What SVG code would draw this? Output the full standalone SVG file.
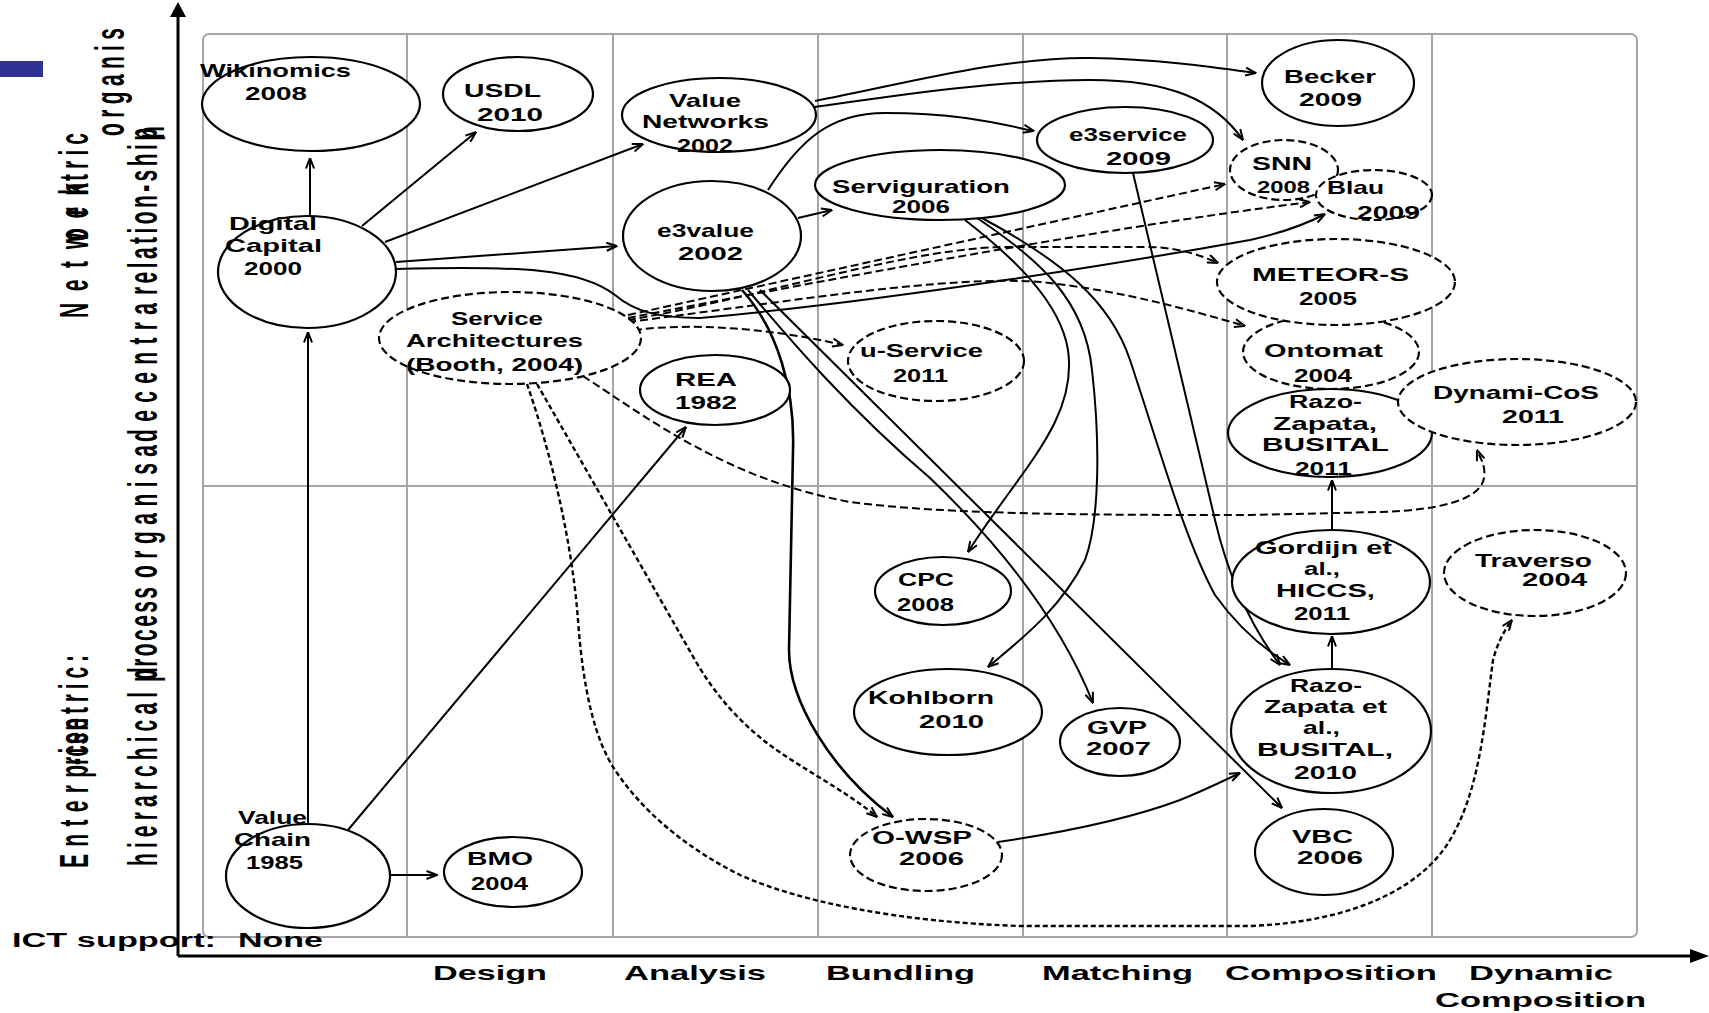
<svg xmlns="http://www.w3.org/2000/svg" width="1709" height="1013" viewBox="0 0 1709 1013">
<style>
  text { font-family: "Liberation Sans", Arial, sans-serif; fill: #000; }
  .t { font-size: 19px; font-weight: bold; }
  .ax { font-size: 21px; font-weight: bold; }
  .v { font-size: 21px; font-weight: bold; }
  .nd ellipse { fill: #fff; stroke: #000; stroke-width: 2.2; }
  .nd.ds ellipse { stroke-dasharray: 8 4; }
  .grid { fill: none; stroke: #a6a6a6; stroke-width: 2; }
  #connectors path { fill: none; stroke: #000; stroke-width: 2; marker-end: url(#arr); }
  #connectors path.d { stroke-dasharray: 8 4; }
  #connectors path.dd { stroke-dasharray: 5 3; stroke-width: 2.4; }
  #connectors path.thick { stroke-width: 2.6; }
</style>
<defs>
  <marker id="arr" viewBox="0 0 12 10" refX="11.5" refY="5" markerWidth="12" markerHeight="10" markerUnits="userSpaceOnUse" orient="auto">
    <path d="M1,1 L11.5,5 L1,9" fill="none" stroke="#000" stroke-width="2"/>
  </marker>
</defs>
<rect width="1709" height="1013" fill="#fff"/>

<!-- corner tag -->
<rect x="0" y="61" width="43" height="16" fill="#2e3192"/>

<!-- grid -->
<g id="grid">
  <rect class="grid" x="203" y="34" width="1434" height="903" rx="6"/>
  <path class="grid" d="M407,34V937 M613,34V937 M818,34V937 M1023,34V937 M1227,34V937 M1432,34V937 M203,486H1637"/>
</g>

<!-- axes -->
<g id="axes">
  <path d="M178,956 V14 M178,956 H1692" fill="none" stroke="#000" stroke-width="3"/>
  <path d="M178,2 L186,17 L170,17 Z" fill="#000"/>
  <path d="M1709,956 L1690,949 L1690,963 Z" fill="#000"/>
</g>

<!-- vertical axis labels -->
<g id="y-labels">
  <text class="v" transform="translate(88,318) rotate(-90) scale(1,1.95)" textLength="85" lengthAdjust="spacing">Netw</text>
  <text class="v" transform="translate(88,241) rotate(-90) scale(1,1.95)" textLength="58" lengthAdjust="spacing">ork</text>
  <text class="v" transform="translate(88,241) rotate(-90) scale(1,1.95)" textLength="58" lengthAdjust="spacing">cen</text>
  <text class="v" transform="translate(88,181) rotate(-90) scale(1,1.95)" textLength="48" lengthAdjust="spacing">tric</text>
  <text class="v" transform="translate(88,868) rotate(-90) scale(1,1.95)" textLength="103" lengthAdjust="spacing">Enterp</text>
  <text class="v" transform="translate(88,765) rotate(-90) scale(1,1.95)" textLength="47" lengthAdjust="spacing">rise</text>
  <text class="v" transform="translate(88,765) rotate(-90) scale(1,1.95)" textLength="47" lengthAdjust="spacing">-cen</text>
  <text class="v" transform="translate(88,714) rotate(-90) scale(1,1.95)" textLength="59" lengthAdjust="spacing">tric:</text>
  <text class="v" transform="translate(157,866) rotate(-90) scale(1,1.95)" textLength="174" lengthAdjust="spacing">hierarchical</text>
  <text class="v" transform="translate(157,682) rotate(-90) scale(1,1.95)" textLength="95" lengthAdjust="spacing">process</text>
  <text class="v" transform="translate(157,680) rotate(-90) scale(1,1.95)">d</text>
  <text class="v" transform="translate(157,578) rotate(-90) scale(1,1.95)" textLength="133" lengthAdjust="spacing">organisa</text>
  <text class="v" transform="translate(157,442) rotate(-90) scale(1,1.95)" textLength="139" lengthAdjust="spacing">decentra</text>
  <text class="v" transform="translate(157,295) rotate(-90) scale(1,1.95)" textLength="167" lengthAdjust="spacing">relation-ship</text>
  <text class="v" transform="translate(164,139) rotate(-90) scale(1,1.95)">n</text>
  <text class="v" transform="translate(124,136) rotate(-90) scale(1,1.95)" textLength="108" lengthAdjust="spacing">organis</text>
</g>

<!-- horizontal axis labels -->
<g id="x-labels">
  <text class="t" x="12" y="947" textLength="204" lengthAdjust="spacingAndGlyphs" style="font-size:20px">ICT support:</text>
  <text class="t" x="238" y="947" textLength="85" lengthAdjust="spacingAndGlyphs" style="font-size:20px">None</text>
  <text class="ax" x="433" y="980" textLength="114" lengthAdjust="spacingAndGlyphs">Design</text>
  <text class="ax" x="624" y="980" textLength="142" lengthAdjust="spacingAndGlyphs">Analysis</text>
  <text class="ax" x="826" y="980" textLength="149" lengthAdjust="spacingAndGlyphs">Bundling</text>
  <text class="ax" x="1042" y="980" textLength="151" lengthAdjust="spacingAndGlyphs">Matching</text>
  <text class="ax" x="1225" y="980" textLength="212" lengthAdjust="spacingAndGlyphs">Composition</text>
  <text class="ax" x="1469" y="980" textLength="144" lengthAdjust="spacingAndGlyphs">Dynamic</text>
  <text class="ax" x="1435" y="1007" textLength="211" lengthAdjust="spacingAndGlyphs">Composition</text>
</g>

<!-- connectors -->
<g id="connectors">
  <path d="M310,216 L310,158"/>
  <path d="M362,226 L476,132"/>
  <path d="M385,242 L643,144"/>
  <path d="M396,262 L617,246"/>
  <path d="M396,269 C520,266 580,268 615,295 C635,312 660,318 700,318 C900,300 1150,258 1250,240 Q1295,230 1325,214"/>
  <path d="M308,824 L308,332"/>
  <path d="M348,830 L686,427"/>
  <path d="M390,875 L437,875"/>
  <path d="M798,218 L832,210"/>
  <path d="M768,190 C800,140 830,113 885,113 C960,113 1000,124 1034,131"/>
  <path d="M815,101 C900,85 1000,57 1090,58 C1160,59 1220,68 1256,73"/>
  <path d="M815,107 C900,95 1000,80 1090,80 C1170,80 1215,100 1243,140"/>
  <path d="M1133,173 L1215,520 C1228,575 1250,625 1280,665"/>
  <path d="M965,220 C1010,255 1060,300 1068,350 C1078,420 1020,470 968,552"/>
  <path d="M977,218 C1040,260 1085,300 1092,370 C1100,440 1100,520 1085,560 C1060,610 1020,640 988,667"/>
  <path d="M982,218 C1060,260 1110,300 1130,360 C1160,450 1185,540 1215,595 C1240,630 1265,650 1290,665"/>
  <path class="thick" d="M742,290 C778,330 795,390 793,450 L789,650 C789,700 830,770 893,817"/>
  <path d="M748,290 C790,340 850,410 930,478 C1000,545 1060,620 1093,703"/>
  <path d="M760,290 L1282,808"/>
  <path d="M998,842 C1080,830 1140,815 1180,800 C1205,790 1225,780 1240,773"/>
  <path d="M1332,668 L1332,636"/>
  <path d="M1332,530 L1332,480"/>
  <path class="d" d="M628,315 L1225,184"/>
  <path class="d" d="M628,318 C800,285 1100,228 1310,202"/>
  <path class="d" d="M628,320 C750,300 900,250 1000,247 L1150,247 C1180,248 1200,255 1218,263"/>
  <path class="d" d="M628,322 C800,300 950,275 1040,282 C1120,290 1190,310 1245,326"/>
  <path class="d" d="M634,330 C700,322 780,330 843,345"/>
  <path class="d" d="M583,376 C650,420 730,480 850,502 C950,515 1100,515 1250,515 L1380,512 C1440,510 1480,500 1484,478 C1486,465 1480,458 1477,450"/>
  <path class="dd" d="M537,384 L695,660 C715,695 740,722 767,743 C800,768 845,790 877,817"/>
  <path class="dd" d="M527,384 C550,450 572,540 578,620 C583,690 595,740 615,770 C645,815 690,850 740,875 C800,902 900,922 1020,926 L1250,926 C1350,922 1420,890 1450,840 C1480,790 1485,720 1493,660 C1497,645 1503,632 1512,620"/>
</g>

<!-- nodes -->
<g id="n-wikinomics" class="nd">
  <ellipse cx="311" cy="104" rx="109" ry="47"/>
  <text class="t" x="200" y="77" textLength="151" lengthAdjust="spacingAndGlyphs">Wikinomics</text>
  <text class="t" x="245" y="100" textLength="62" lengthAdjust="spacingAndGlyphs">2008</text>
</g>
<g id="n-usdl" class="nd">
  <ellipse cx="518" cy="94" rx="75" ry="37"/>
  <text class="t" x="464" y="97" textLength="77" lengthAdjust="spacingAndGlyphs">USDL</text>
  <text class="t" x="477" y="121" textLength="66" lengthAdjust="spacingAndGlyphs">2010</text>
</g>
<g id="n-value-networks" class="nd">
  <ellipse cx="719" cy="115" rx="97" ry="37"/>
  <text class="t" x="669" y="107" textLength="72" lengthAdjust="spacingAndGlyphs">Value</text>
  <text class="t" x="642" y="128" textLength="127" lengthAdjust="spacingAndGlyphs">Networks</text>
  <text class="t" x="677" y="152" textLength="56" lengthAdjust="spacingAndGlyphs">2002</text>
</g>
<g id="n-digital-capital" class="nd">
  <ellipse cx="307" cy="272" rx="89" ry="56"/>
  <text class="t" x="229" y="230" textLength="88" lengthAdjust="spacingAndGlyphs">Digital</text>
  <text class="t" x="225" y="252" textLength="97" lengthAdjust="spacingAndGlyphs">Capital</text>
  <text class="t" x="244" y="275" textLength="58" lengthAdjust="spacingAndGlyphs">2000</text>
</g>
<g id="n-e3value" class="nd">
  <ellipse cx="712" cy="236" rx="89" ry="55"/>
  <text class="t" x="657" y="237" textLength="97" lengthAdjust="spacingAndGlyphs">e3value</text>
  <text class="t" x="678" y="260" textLength="65" lengthAdjust="spacingAndGlyphs">2002</text>
</g>
<g id="n-service-architectures" class="nd ds">
  <ellipse cx="510" cy="338" rx="131" ry="46"/>
  <text class="t" x="451" y="325" textLength="92" lengthAdjust="spacingAndGlyphs">Service</text>
  <text class="t" x="406" y="347" textLength="177" lengthAdjust="spacingAndGlyphs">Architectures</text>
  <text class="t" x="406" y="371" textLength="177" lengthAdjust="spacingAndGlyphs">(Booth, 2004)</text>
</g>
<g id="n-rea" class="nd">
  <ellipse cx="715" cy="390" rx="75" ry="35"/>
  <text class="t" x="675" y="386" textLength="62" lengthAdjust="spacingAndGlyphs">REA</text>
  <text class="t" x="675" y="409" textLength="62" lengthAdjust="spacingAndGlyphs">1982</text>
</g>
<g id="n-serviguration" class="nd">
  <ellipse cx="940" cy="185" rx="125" ry="35"/>
  <text class="t" x="832" y="193" textLength="178" lengthAdjust="spacingAndGlyphs">Serviguration</text>
  <text class="t" x="892" y="213" textLength="58" lengthAdjust="spacingAndGlyphs">2006</text>
</g>
<g id="n-e3service" class="nd">
  <ellipse cx="1125" cy="140" rx="88" ry="33"/>
  <text class="t" x="1069" y="141" textLength="118" lengthAdjust="spacingAndGlyphs">e3service</text>
  <text class="t" x="1106" y="165" textLength="65" lengthAdjust="spacingAndGlyphs">2009</text>
</g>
<g id="n-u-service" class="nd ds">
  <ellipse cx="936" cy="361" rx="88" ry="40"/>
  <text class="t" x="860" y="357" textLength="123" lengthAdjust="spacingAndGlyphs">u-Service</text>
  <text class="t" x="893" y="382" textLength="55" lengthAdjust="spacingAndGlyphs">2011</text>
</g>
<g id="n-becker" class="nd">
  <ellipse cx="1338" cy="83" rx="76" ry="43"/>
  <text class="t" x="1284" y="83" textLength="92" lengthAdjust="spacingAndGlyphs">Becker</text>
  <text class="t" x="1299" y="106" textLength="63" lengthAdjust="spacingAndGlyphs">2009</text>
</g>
<g id="n-snn" class="nd ds">
  <ellipse cx="1284" cy="170" rx="54" ry="30"/>
  <text class="t" x="1252" y="170" textLength="60" lengthAdjust="spacingAndGlyphs">SNN</text>
  <text class="t" x="1257" y="193" textLength="53" lengthAdjust="spacingAndGlyphs" style="font-size:17px">2008</text>
</g>
<g id="n-blau" class="nd ds">
  <ellipse cx="1374" cy="195" rx="58" ry="25"/>
  <text class="t" x="1327" y="194" textLength="57" lengthAdjust="spacingAndGlyphs">Blau</text>
  <text class="t" x="1357" y="219" textLength="63" lengthAdjust="spacingAndGlyphs">2009</text>
</g>
<g id="n-ontomat" class="nd ds">
  <ellipse cx="1331" cy="352" rx="88" ry="37"/>
  <text class="t" x="1264" y="357" textLength="119" lengthAdjust="spacingAndGlyphs">Ontomat</text>
  <text class="t" x="1294" y="382" textLength="58" lengthAdjust="spacingAndGlyphs">2004</text>
</g>
<g id="n-meteor-s" class="nd ds">
  <ellipse cx="1336" cy="282" rx="119" ry="43"/>
  <text class="t" x="1252" y="281" textLength="157" lengthAdjust="spacingAndGlyphs">METEOR-S</text>
  <text class="t" x="1299" y="305" textLength="58" lengthAdjust="spacingAndGlyphs">2005</text>
</g>
<g id="n-razo-zapata-2011" class="nd">
  <ellipse cx="1330" cy="433" rx="102" ry="44"/>
  <text class="t" x="1289" y="408" textLength="73" lengthAdjust="spacingAndGlyphs">Razo-</text>
  <text class="t" x="1273" y="430" textLength="104" lengthAdjust="spacingAndGlyphs">Zapata,</text>
  <text class="t" x="1262" y="451" textLength="127" lengthAdjust="spacingAndGlyphs">BUSITAL</text>
  <text class="t" x="1295" y="475" textLength="57" lengthAdjust="spacingAndGlyphs">2011</text>
</g>
<g id="n-dynami-cos" class="nd ds">
  <ellipse cx="1517" cy="402" rx="119" ry="43"/>
  <text class="t" x="1433" y="399" textLength="166" lengthAdjust="spacingAndGlyphs">Dynami-CoS</text>
  <text class="t" x="1502" y="423" textLength="62" lengthAdjust="spacingAndGlyphs">2011</text>
</g>
<g id="n-gordijn" class="nd">
  <ellipse cx="1331" cy="582" rx="99" ry="52"/>
  <text class="t" x="1255" y="554" textLength="137" lengthAdjust="spacingAndGlyphs">Gordijn et</text>
  <text class="t" x="1304" y="575" textLength="36" lengthAdjust="spacingAndGlyphs">al.,</text>
  <text class="t" x="1276" y="597" textLength="99" lengthAdjust="spacingAndGlyphs">HICCS,</text>
  <text class="t" x="1294" y="620" textLength="56" lengthAdjust="spacingAndGlyphs">2011</text>
</g>
<g id="n-traverso" class="nd ds">
  <ellipse cx="1535" cy="573" rx="91" ry="43"/>
  <text class="t" x="1475" y="567" textLength="117" lengthAdjust="spacingAndGlyphs">Traverso</text>
  <text class="t" x="1522" y="586" textLength="65" lengthAdjust="spacingAndGlyphs">2004</text>
</g>
<g id="n-cpc" class="nd">
  <ellipse cx="943" cy="591" rx="68" ry="34"/>
  <text class="t" x="898" y="586" textLength="56" lengthAdjust="spacingAndGlyphs">CPC</text>
  <text class="t" x="897" y="611" textLength="57" lengthAdjust="spacingAndGlyphs">2008</text>
</g>
<g id="n-kohlborn" class="nd">
  <ellipse cx="948" cy="712" rx="94" ry="43"/>
  <text class="t" x="868" y="704" textLength="126" lengthAdjust="spacingAndGlyphs">Kohlborn</text>
  <text class="t" x="919" y="728" textLength="65" lengthAdjust="spacingAndGlyphs">2010</text>
</g>
<g id="n-gvp" class="nd">
  <ellipse cx="1120" cy="742" rx="60" ry="34"/>
  <text class="t" x="1087" y="734" textLength="60" lengthAdjust="spacingAndGlyphs">GVP</text>
  <text class="t" x="1086" y="755" textLength="65" lengthAdjust="spacingAndGlyphs">2007</text>
</g>
<g id="n-razo-zapata-2010" class="nd">
  <ellipse cx="1331" cy="731" rx="100" ry="62"/>
  <text class="t" x="1290" y="692" textLength="72" lengthAdjust="spacingAndGlyphs">Razo-</text>
  <text class="t" x="1264" y="713" textLength="123" lengthAdjust="spacingAndGlyphs">Zapata et</text>
  <text class="t" x="1303" y="734" textLength="37" lengthAdjust="spacingAndGlyphs">al.,</text>
  <text class="t" x="1257" y="756" textLength="136" lengthAdjust="spacingAndGlyphs">BUSITAL,</text>
  <text class="t" x="1294" y="779" textLength="63" lengthAdjust="spacingAndGlyphs">2010</text>
</g>
<g id="n-vbc" class="nd">
  <ellipse cx="1324" cy="852" rx="69" ry="43"/>
  <text class="t" x="1292" y="843" textLength="61" lengthAdjust="spacingAndGlyphs">VBC</text>
  <text class="t" x="1297" y="864" textLength="66" lengthAdjust="spacingAndGlyphs">2006</text>
</g>
<g id="n-o-wsp" class="nd ds">
  <ellipse cx="926" cy="855" rx="76" ry="36"/>
  <text class="t" x="872" y="844" textLength="100" lengthAdjust="spacingAndGlyphs">O-WSP</text>
  <text class="t" x="899" y="865" textLength="65" lengthAdjust="spacingAndGlyphs">2006</text>
</g>
<g id="n-bmo" class="nd">
  <ellipse cx="513" cy="872" rx="69" ry="35"/>
  <text class="t" x="467" y="865" textLength="66" lengthAdjust="spacingAndGlyphs">BMO</text>
  <text class="t" x="471" y="890" textLength="57" lengthAdjust="spacingAndGlyphs">2004</text>
</g>
<g id="n-value-chain" class="nd">
  <ellipse cx="308" cy="876" rx="82" ry="52"/>
  <text class="t" x="238" y="824" textLength="69" lengthAdjust="spacingAndGlyphs">Value</text>
  <text class="t" x="234" y="846" textLength="77" lengthAdjust="spacingAndGlyphs">Chain</text>
  <text class="t" x="246" y="869" textLength="57" lengthAdjust="spacingAndGlyphs">1985</text>
</g>
</svg>
